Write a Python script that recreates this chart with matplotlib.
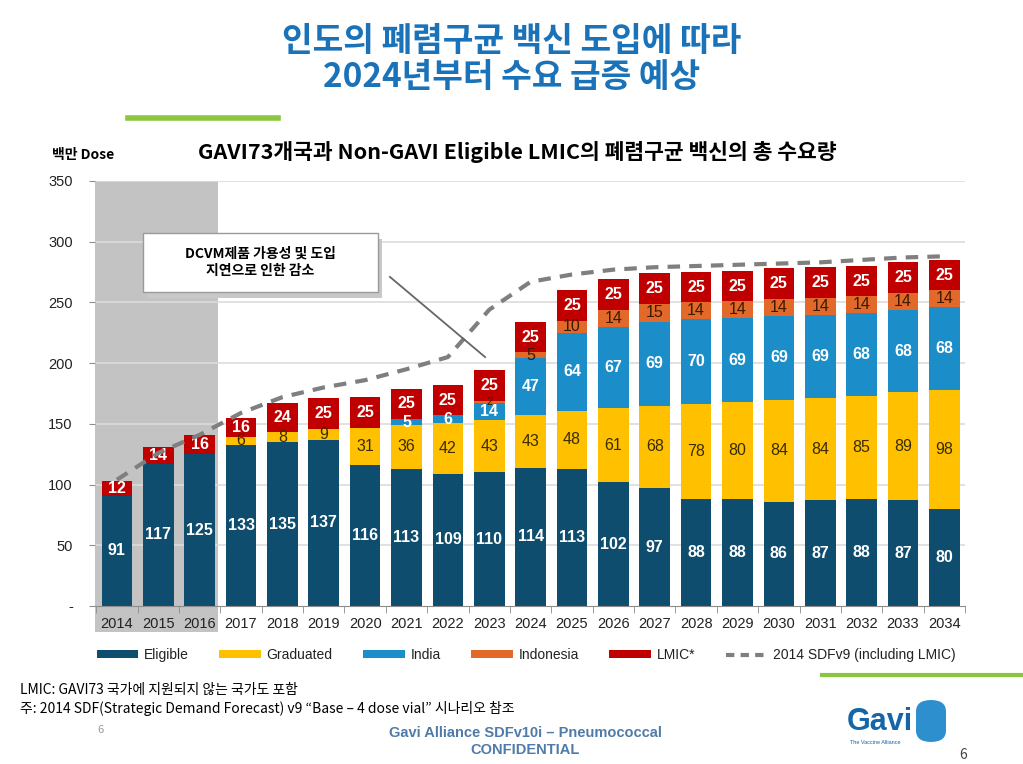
import matplotlib.pyplot as plt
from matplotlib.patches import Rectangle, FancyBboxPatch
from matplotlib.lines import Line2D
from matplotlib.patches import Patch
import matplotlib.transforms as mtransforms
import numpy as np

plt.rcParams['font.family'] = ['Noto Sans CJK KR', 'DejaVu Sans']

# data (million doses)
years = [str(y) for y in range(2014, 2035)]
eligible = [91, 117, 125, 133, 135, 137, 116, 113, 109, 110, 114, 113, 102, 97, 88, 88, 86, 87, 88, 87, 80]
graduated = [0, 0, 0, 6, 8, 9, 31, 36, 42, 43, 43, 48, 61, 68, 78, 80, 84, 84, 85, 89, 98]
india = [0, 0, 0, 0, 0, 0, 0, 5, 6, 14, 47, 64, 67, 69, 70, 69, 69, 69, 68, 68, 68]
indonesia = [0, 0, 0, 0, 0, 0, 0, 0, 0, 2, 5, 10, 14, 15, 14, 14, 14, 14, 14, 14, 14]
lmic = [12, 14, 16, 16, 24, 25, 25, 25, 25, 25, 25, 25, 25, 25, 25, 25, 25, 25, 25, 25, 25]
sdf_v9 = [104, 126, 141, 159, 172, 180, 186, 195, 205, 244, 267, 273, 277, 279, 280, 281, 282, 283, 285, 287, 288]

series = [
    ('Eligible', eligible, '#0E4D6E', 'white'),
    ('Graduated', graduated, '#FFC000', '#3A2C00'),
    ('India', india, '#1B8DC9', 'white'),
    ('Indonesia', indonesia, '#E2692A', '#3A1A00'),
    ('LMIC*', lmic, '#C00000', 'white'),
]

W, H = 1023, 764
num_font = ['Liberation Sans', 'DejaVu Sans']


def fx(x):
    return x / W


def fy(y):
    return 1 - y / H


fig = plt.figure(figsize=(10.23, 7.64), dpi=100)
fig.patch.set_facecolor('white')

# slide title
title_color = '#1A72B8'
fig.text(fx(512), fy(42), '인도의 폐렴구균 백신 도입에 따라', ha='center', va='center',
         fontsize=24, fontweight='bold', color=title_color)
fig.text(fx(512), fy(78), '2024년부터 수요 급증 예상', ha='center', va='center',
         fontsize=24, fontweight='bold', color=title_color)
fig.add_artist(Line2D([fx(128), fx(278)], [fy(118), fy(118)], color='#8CC63E', lw=4))

# chart title
fig.text(fx(517), fy(152), 'GAVI73개국과 Non-GAVI Eligible LMIC의 폐렴구균 백신의 총 수요량',
         ha='center', va='center', fontsize=15.5, fontweight='bold', color='black')
fig.text(fx(52), fy(155), '백만 Dose', ha='left', va='center', fontsize=10,
         fontweight='bold', color='black')

ax = fig.add_axes([fx(95), fy(606), fx(965) - fx(95), fy(181) - fy(606)])
x = np.arange(len(years))
ax.set_xlim(-0.53, 20.5)
ax.set_ylim(0, 350)

# shaded historical region (extends below the axis over the tick labels)
trans = mtransforms.blended_transform_factory(ax.transData, ax.transAxes)
ax.add_patch(Rectangle((-0.53, -0.061), 2.97, 1.061, transform=trans,
                       facecolor='#C3C3C3', edgecolor='none', zorder=0, clip_on=False))

for v in range(50, 351, 50):
    ax.axhline(v, color='#DCDCDC', lw=1.2, zorder=0.5)

bottom = np.zeros(len(years))
for name, vals, color, tcolor in series:
    vals = np.array(vals, dtype=float)
    ax.bar(x, vals, bottom=bottom, width=0.74, color=color, label=name, zorder=2)
    for i, v in enumerate(vals):
        if v > 0:
            fw = 'bold' if tcolor == 'white' else 'normal'
            fs = 11.5 if v >= 5 else 7.5
            ax.text(x[i], bottom[i] + v / 2, f'{int(v)}', ha='center', va='center',
                    fontsize=fs, fontweight=fw, color=tcolor, zorder=3, family=num_font)
    bottom += vals

ax.plot(x, sdf_v9, color='#7F7F7F', lw=3, dashes=(3, 2.2), zorder=4,
        label='2014 SDFv9 (including LMIC)')

# annotation box with pointer
ax.plot([6.6, 8.9], [271, 205], color='#666666', lw=1.3, zorder=5, clip_on=False)
shadow = Rectangle((0.72, 254), 5.68, 48, facecolor='#C8C8C8', edgecolor='none', zorder=5)
ax.add_patch(shadow)
box = Rectangle((0.63, 259), 5.68, 48, facecolor='white', edgecolor='#9A9A9A', lw=1, zorder=6)
ax.add_patch(box)
ax.text(3.47, 283, 'DCVM제품 가용성 및 도입\n지연으로 인한 감소', ha='center', va='center',
        fontsize=10, fontweight='bold', color='black', zorder=7, linespacing=1.3)

# axes styling
for s in ['top', 'right', 'left']:
    ax.spines[s].set_visible(False)
ax.spines['bottom'].set_color('#8C8C8C')
ax.set_xticks(x)
ax.set_xticklabels(years, fontsize=10.5, color='#222222', family=num_font)
ax.set_xticks(np.arange(-0.5, 20.6, 1), minor=True)
ax.tick_params(axis='x', which='major', length=0, pad=8)
ax.tick_params(axis='x', which='minor', length=5, color='#8C8C8C')
ax.set_yticks(range(0, 351, 50))
ax.set_yticklabels(['-'] + [str(v) for v in range(50, 351, 50)], fontsize=10.5,
                   color='#222222', family=num_font)
ax.tick_params(axis='y', length=4, color='#8C8C8C', pad=12)

# legend
handles = [Patch(facecolor=c, edgecolor='none') for _, _, c, _ in series]
handles.append(Line2D([0], [0], color='#7F7F7F', lw=3, dashes=(2, 1.5)))
labels = [n for n, _, _, _ in series] + ['2014 SDFv9 (including LMIC)']
leg = fig.legend(handles, labels, loc='center', bbox_to_anchor=(fx(526), fy(655)), ncol=6,
                 frameon=False, handlelength=3, handleheight=0.5,
                 columnspacing=2.2, handletextpad=0.4,
                 prop={'family': num_font, 'size': 10})
for t in leg.get_texts():
    t.set_color('#222222')

# footnotes
fig.text(fx(20), fy(690), 'LMIC: GAVI73 국가에 지원되지 않는 국가도 포함', ha='left', va='center',
         fontsize=10, color='black')
fig.text(fx(20), fy(708), '주: 2014 SDF(Strategic Demand Forecast) v9 “Base – 4 dose vial” 시나리오 참조',
         ha='left', va='center', fontsize=10, color='black')
fig.text(fx(100), fy(730), '6', ha='center', va='center', fontsize=8, color='#999999')
fig.text(fx(525), fy(733), 'Gavi Alliance SDFv10i – Pneumococcal', ha='center', va='center',
         fontsize=10.5, fontweight='bold', color='#4F7BA8', family=num_font)
fig.text(fx(525), fy(750), 'CONFIDENTIAL', ha='center', va='center',
         fontsize=10.5, fontweight='bold', color='#4F7BA8', family=num_font)
fig.add_artist(Line2D([fx(822), fx(1023)], [fy(675), fy(675)], color='#8CC63E', lw=3))

# Gavi logo (text mark)
fig.text(fx(847), fy(722), 'Gavi', ha='left', va='center', fontsize=22, fontweight='bold',
         color='#1466A8', family=num_font)
fig.text(fx(850), fy(743), 'The Vaccine Alliance', ha='left', va='center', fontsize=4,
         color='#1466A8', family=num_font)
logo = FancyBboxPatch((fx(916), fy(742)), fx(30), fy(700) - fy(742),
                      boxstyle='round,pad=0,rounding_size=0.015', transform=fig.transFigure,
                      facecolor='#2E8FCF', edgecolor='none')
fig.add_artist(logo)
fig.text(fx(963), fy(755), '6', ha='center', va='center', fontsize=10, color='#444444')

fig.savefig('out.png', dpi=100, facecolor='white')
